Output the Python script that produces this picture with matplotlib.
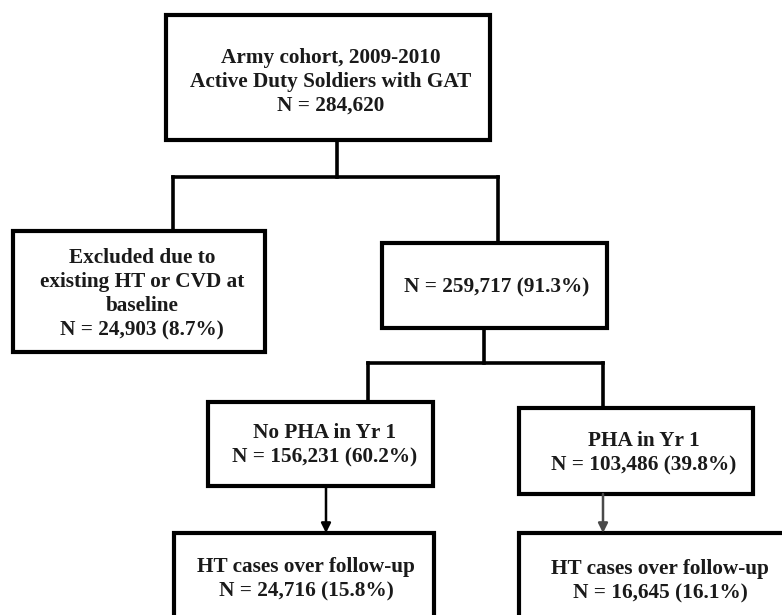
import matplotlib
matplotlib.use('Agg')
import matplotlib.pyplot as plt
from matplotlib.patches import Rectangle


## Flowchart content ##
box_names = ['cohort', 'excluded', 'included', 'no_pha', 'pha',
             'ht_no_pha', 'ht_pha']
box_labels = ['Army cohort, 2009-2010\nActive Duty Soldiers with GAT\nN = 284,620',
              'Excluded due to\nexisting HT or CVD at\nbaseline\nN = 24,903 (8.7%)',
              'N = 259,717 (91.3%)',
              'No PHA in Yr 1\nN = 156,231 (60.2%)',
              'PHA in Yr 1\nN = 103,486 (39.8%)',
              'HT cases over follow-up\nN = 24,716 (15.8%)',
              'HT cases over follow-up\nN = 16,645 (16.1%)']


## Layout in pixels (x0, y0, x1, y1), y downwards ##
box_xy = {
    'cohort': (166, 15, 490, 140),
    'excluded': (13, 231, 265, 352),
    'included': (382, 243, 607, 328),
    'no_pha': (208, 402, 433, 486),
    'pha': (519, 408, 753, 494),
    'ht_no_pha': (174, 533, 434, 640),
    'ht_pha': (519, 533, 800, 640),
}
text_xy = {
    'cohort': (331, 82),
    'excluded': (142, 294),
    'included': (497, 287),
    'no_pha': (325, 445),
    'pha': (644, 453),
    'ht_no_pha': (306, 579),
    'ht_pha': (660, 581),
}


fig = plt.figure(figsize=(7.82, 6.15), dpi=100)
ax = fig.add_axes([0, 0, 1, 1])
ax.set_xlim(0, 782)
ax.set_ylim(615, 0)
ax.axis('off')

for name, label in zip(box_names, box_labels):
    x0, y0, x1, y1 = box_xy[name]
    ax.add_patch(Rectangle((x0, y0), x1 - x0, y1 - y0,
                           facecolor='white', edgecolor='black',
                           lw=3.0, zorder=2))
    tx, ty = text_xy[name]
    ax.text(tx, ty, label, ha='center', va='center',
            fontsize=15.3, fontweight='bold', family='Liberation Serif',
            color='#1a1a1a', linespacing=1.27, zorder=3)

## Connectors ##
conn = dict(color='black', lw=2.6, solid_capstyle='projecting', zorder=1)
ax.plot([337, 337], [140, 177], **conn)
ax.plot([173, 498], [177, 177], **conn)
ax.plot([173, 173], [177, 231], **conn)
ax.plot([498, 498], [177, 243], **conn)
ax.plot([484, 484], [328, 363], **conn)
ax.plot([368, 603], [363, 363], **conn)
ax.plot([368, 368], [363, 402], **conn)
ax.plot([603, 603], [363, 408], **conn)

## Arrows ##
for x, y0, y1, col in [(326, 486, 533, 'black'), (603, 494, 533, '#4a4a4a')]:
    ax.annotate('', xy=(x, y1), xytext=(x, y0),
                arrowprops=dict(arrowstyle='-|>', color=col, lw=1.8,
                                mutation_scale=14, shrinkA=0, shrinkB=0),
                zorder=4)

plt.savefig('out.png', dpi=100)
plt.close(fig)
